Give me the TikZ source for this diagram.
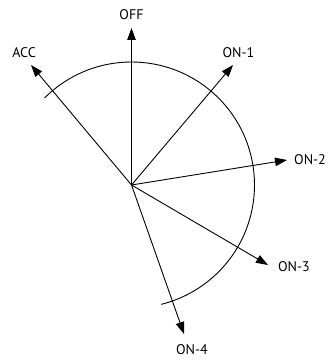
\documentclass[tikz,border=0pt]{standalone}
\usepackage{fontspec}
\setmainfont{PT Sans}
\usetikzlibrary{arrows.meta,calc}
\begin{document}
\begin{tikzpicture}[x=1pt,y=1pt,
  posarrow/.style={draw=black,line width=0.9pt,-{Triangle[length=12pt,width=8.5pt]}},
  lbl/.style={font=\fontsize{14}{16}\selectfont,inner sep=0pt}]
\useasboundingbox (0,0) rectangle (333,361);
\coordinate (c) at (131.5,176);
\coordinate (off) at (131.5,333);
\coordinate (acc) at (31,296);
\coordinate (on1) at (233,296);
\coordinate (on2) at (287,201);
\coordinate (on3) at (268,96);
\coordinate (on4) at (184,27);
\draw[line width=0.9pt] ($(c)+(135:123)$) arc[start angle=135,end angle=-76,radius=123];
\foreach \t in {off,acc,on1,on2,on3,on4} \draw[posarrow] (c) -- (\t);
\node[lbl] (loff) at (131.5,346) {OFF};
\node[lbl] (lacc) at (24,308) {ACC};
\node[lbl] (lon1) at (238.5,308) {ON-1};
\node[lbl,anchor=west] (lon2) at (294,201) {ON-2};
\node[lbl] (lon3) at (294,94) {ON-3};
\node[lbl] (lon4) at (192,11) {ON-4};
\end{tikzpicture}
\end{document}
